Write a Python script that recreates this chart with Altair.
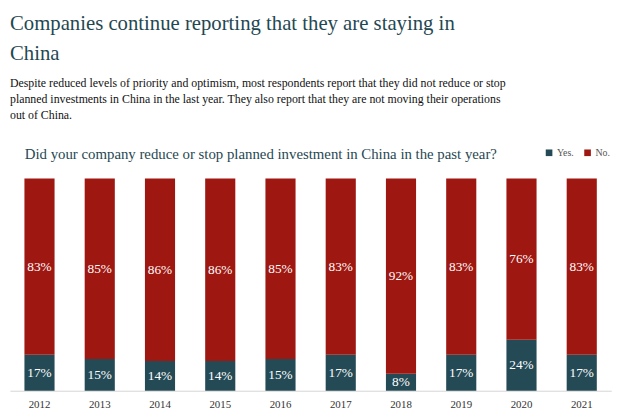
import altair as alt
import pandas as pd

years = ["2012", "2013", "2014", "2015", "2016", "2017", "2018", "2019", "2020", "2021"]
yes_vals = [17, 15, 14, 14, 15, 17, 8, 17, 24, 17]
no_vals = [83, 85, 86, 86, 85, 83, 92, 83, 76, 83]
series = ["Yes.", "No."]
colors = ["#244a55", "#9e1711"]

title_lines = ["Companies continue reporting that they are staying in", "China"]
subtitle_lines = [
    "Despite reduced levels of priority and optimism, most respondents report that they did not reduce or stop",
    "planned investments in China in the last year. They also report that they are not moving their operations",
    "out of China.",
]
question = "Did your company reduce or stop planned investment in China in the past year?"

rows = []
for y, a, b in zip(years, yes_vals, no_vals):
    rows.append({"year": y, "answer": "Yes.", "value": a, "order": 0})
    rows.append({"year": y, "answer": "No.", "value": b, "order": 1})
df = pd.DataFrame(rows)

FONT = "Liberation Serif"
TEAL = "#1f4852"

base = alt.Chart(df).transform_stack(
    stack="value", groupby=["year"], sort=[alt.SortField("order")], as_=["y0", "y1"]
).transform_calculate(
    mid="(datum.y0 + datum.y1) / 2",
    label="datum.value + '%'",
)

x_enc = alt.X(
    "year:N",
    sort=years,
    title=None,
    scale=alt.Scale(paddingInner=0.5, paddingOuter=0.24),
    axis=alt.Axis(
        labelAngle=0, ticks=False, domainColor="#d4d4d4", domainWidth=1,
        labelFont=FONT, labelFontSize=11, labelColor="#333333", labelPadding=8,
    ),
)

bars = base.mark_bar().encode(
    x=x_enc,
    y=alt.Y("y0:Q", scale=alt.Scale(domain=[0, 100]), axis=None),
    y2="y1:Q",
    color=alt.Color(
        "answer:N",
        scale=alt.Scale(domain=series, range=colors),
        legend=alt.Legend(
            title=None, orient="none", legendX=541, legendY=-31, direction="horizontal",
            symbolType="square", symbolSize=45, symbolStrokeWidth=0,
            labelFont=FONT, labelFontSize=10, labelColor="#555555",
            columnPadding=8, labelOffset=3, labelLimit=60,
        ),
    ),
)

labels = base.mark_text(font=FONT, fontSize=13.5, color="white").encode(
    x=alt.X("year:N", sort=years),
    y=alt.Y("mid:Q"),
    text="label:N",
)

qdf = pd.DataFrame({"q": [question]})
qtext = alt.Chart(qdf).mark_text(
    font=FONT, fontSize=15, color=TEAL, align="left", baseline="alphabetic"
).encode(x=alt.value(15), y=alt.value(-20), text="q:N")

chart = alt.layer(bars, labels, qtext).properties(
    width=609,
    height=215,
    autosize=alt.AutoSizeParams(type="none"),
    padding={"left": 2, "top": 170, "right": 21, "bottom": 27},
    title=alt.TitleParams(
        text=title_lines,
        subtitle=subtitle_lines,
        anchor="start",
        frame="group",
        font=FONT,
        fontSize=21,
        fontWeight="normal",
        color=TEAL,
        lineHeight=30,
        subtitleFont=FONT,
        subtitleFontSize=12,
        subtitleColor="#111111",
        subtitleLineHeight=16.5,
        subtitlePadding=14,
        offset=26,
    ),
).configure_view(stroke=None).configure_title(
    font=FONT, subtitleFont=FONT
)

chart.save("out.html", embed_options={"renderer": "svg", "actions": False})
